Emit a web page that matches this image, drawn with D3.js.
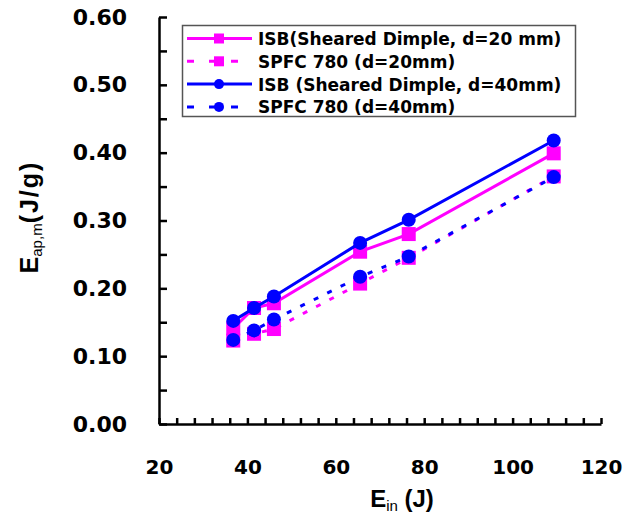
<!DOCTYPE html>
<html>
<head>
<meta charset="utf-8">
<script src="https://cdn.jsdelivr.net/npm/d3@7"></script>
<style>
    html, body { margin: 0; padding: 0; background: #fff; }
    svg { display: block; }
</style>
</head>
<body>
<svg id="chart" width="635" height="514"></svg>
<script>
(function () {

    // x values (input energy, J)
    var energyIn = [36.8, 41.5, 46, 65.5, 76.5, 109.3];

    // series values (J/g)
    var isb20 = [0.141, 0.171, 0.178, 0.254, 0.280, 0.399];
    var spfc20 = [0.123, 0.133, 0.140, 0.207, 0.245, 0.365];
    var isb40 = [0.152, 0.171, 0.188, 0.267, 0.301, 0.418];
    var spfc40 = [0.124, 0.138, 0.154, 0.217, 0.247, 0.364];

    var seriesNames = [
        "ISB(Sheared Dimple, d=20 mm)",
        "SPFC 780 (d=20mm)",
        "ISB (Sheared Dimple, d=40mm)",
        "SPFC 780 (d=40mm)"
    ];

    var xTicks = [20, 40, 60, 80, 100, 120];
    var yTicks = [0, 0.1, 0.2, 0.3, 0.4, 0.5, 0.6];

    var series = [
        { name: seriesNames[0], values: isb20, color: "#ff00ff", dashed: false, marker: "square" },
        { name: seriesNames[1], values: spfc20, color: "#ff00ff", dashed: true, marker: "square" },
        { name: seriesNames[2], values: isb40, color: "#0000ff", dashed: false, marker: "circle" },
        { name: seriesNames[3], values: spfc40, color: "#0000ff", dashed: true, marker: "circle" }
    ];

    var svg = d3.select("#chart");
    var tickFont = "'DejaVu Sans', sans-serif";
    var titleFont = "'Liberation Sans', Arial, sans-serif";

    var x = d3.scaleLinear().domain([20, 120]).range([159, 601]);
    var y = d3.scaleLinear().domain([0, 0.6]).range([424, 17]);

    // minor + major ticks, pointing inward
    var xTickAxis = d3.axisBottom(x)
        .tickValues(d3.range(20, 121, 4))
        .tickSizeInner(-6).tickSizeOuter(0)
        .tickFormat("");
    var yTickAxis = d3.axisLeft(y)
        .tickValues(d3.range(0, 0.601, 0.05))
        .tickSizeInner(-8).tickSizeOuter(0)
        .tickFormat("");

    var gx = svg.append("g").attr("transform", "translate(0," + y(0) + ")").call(xTickAxis);
    var gy = svg.append("g").attr("transform", "translate(" + x(20) + ",0)").call(yTickAxis);
    [gx, gy].forEach(function (g) {
        g.select(".domain").attr("stroke", "#000").attr("stroke-width", 2.5);
        g.selectAll(".tick line").attr("stroke", "#000").attr("stroke-width", 2.5);
    });

    // tick labels
    var xLabelAxis = d3.axisBottom(x).tickValues(xTicks).tickSize(0).tickPadding(36)
        .tickFormat(d3.format("d"));
    var yLabelAxis = d3.axisLeft(y).tickValues(yTicks).tickSize(0).tickPadding(32)
        .tickFormat(d3.format(".2f"));

    var lx = svg.append("g").attr("transform", "translate(0," + y(0) + ")").call(xLabelAxis);
    var ly = svg.append("g").attr("transform", "translate(" + x(20) + ",0)").call(yLabelAxis);
    lx.select(".domain").remove();
    ly.select(".domain").remove();
    lx.selectAll("text").attr("font-family", tickFont).attr("font-weight", "bold")
        .attr("font-size", 20).attr("fill", "#000");
    ly.selectAll("text").attr("font-family", tickFont).attr("font-weight", "bold")
        .attr("font-size", 22).attr("fill", "#000");

    // axis titles
    var xt = svg.append("text")
        .attr("x", 402).attr("y", 507)
        .attr("text-anchor", "middle")
        .attr("font-family", titleFont).attr("font-weight", "bold").attr("font-size", 24);
    xt.append("tspan").text("E");
    xt.append("tspan").attr("font-size", 15).attr("font-weight", "normal").attr("dy", 4).text("in");
    xt.append("tspan").attr("dy", -4).text(" (J)");

    var yt = svg.append("text")
        .attr("transform", "translate(38,217) rotate(-90)")
        .attr("text-anchor", "middle")
        .attr("font-family", titleFont).attr("font-weight", "bold").attr("font-size", 25);
    yt.append("tspan").text("E");
    yt.append("tspan").attr("font-size", 15).attr("font-weight", "normal").attr("dy", 4).text("ap,m");
    yt.append("tspan").attr("dy", -4).attr("letter-spacing", 2).text("(J/g)");

    // lines
    var line = d3.line()
        .x(function (d, i) { return x(energyIn[i]); })
        .y(function (d) { return y(d); });

    function drawMarker(g, type, cx, cy, size, color) {
        if (type === "square") {
            g.append("rect")
                .attr("x", cx - size / 2).attr("y", cy - size / 2)
                .attr("width", size).attr("height", size)
                .attr("fill", color);
        } else {
            g.append("circle")
                .attr("cx", cx).attr("cy", cy).attr("r", size / 2)
                .attr("fill", color);
        }
    }

    series.forEach(function (s) {
        var g = svg.append("g");
        g.append("path")
            .attr("d", line(s.values))
            .attr("fill", "none")
            .attr("stroke", s.color)
            .attr("stroke-width", 3)
            .attr("stroke-dasharray", s.dashed ? "5,10" : null);
        s.values.forEach(function (v, i) {
            drawMarker(g, s.marker, x(energyIn[i]), y(v), s.marker === "square" ? 14 : 14, s.color);
        });
    });

    // legend
    var legend = svg.append("g");
    legend.append("rect")
        .attr("x", 182.5).attr("y", 25.5).attr("width", 393).attr("height", 91)
        .attr("fill", "#fff").attr("stroke", "#555").attr("stroke-width", 1.5);

    series.forEach(function (s, i) {
        var cy = 38.5 + i * 22.8;
        legend.append("line")
            .attr("x1", 187).attr("x2", 252).attr("y1", cy).attr("y2", cy)
            .attr("stroke", s.color).attr("stroke-width", 3)
            .attr("stroke-dasharray", s.dashed ? "7,15" : null);
        drawMarker(legend, s.marker, 219, cy, 10, s.color);
        legend.append("text")
            .attr("x", 258).attr("y", cy + 6.5)
            .attr("font-family", tickFont).attr("font-weight", "bold").attr("font-size", 17)
            .attr("fill", "#000")
            .text(s.name);
    });

})();
</script>
</body>
</html>
